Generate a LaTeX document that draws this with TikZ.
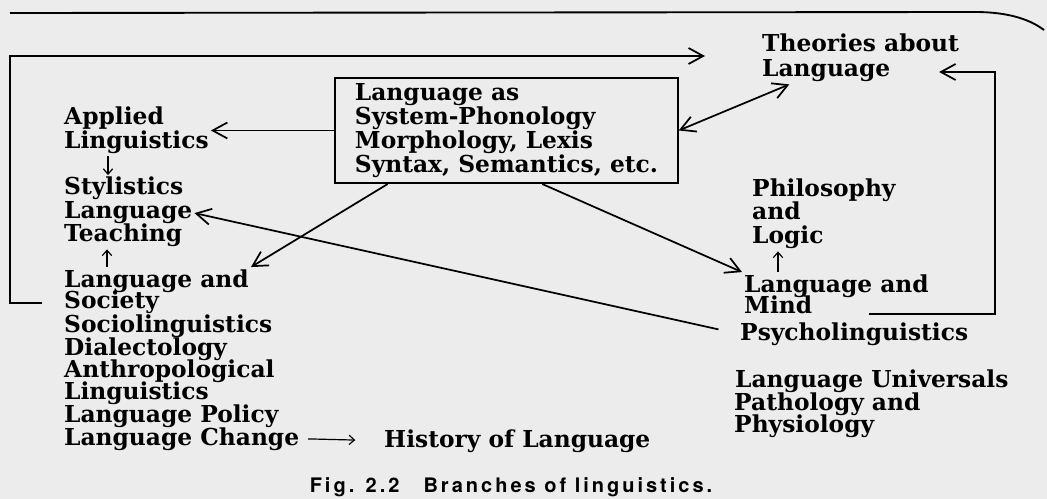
\documentclass[tikz,border=0pt]{standalone}
\usepackage{fontspec}
\setmainfont{DejaVu Serif}
\newfontfamily\capfont[LetterSpace=15]{TeX Gyre Heros}
\usetikzlibrary{arrows.meta}
\definecolor{pagegrey}{RGB}{236,236,236}

\begin{document}
\begin{tikzpicture}[x=0.75pt, y=-0.75pt, line width=1.3pt,
  font=\fontsize{17.5}{18}\selectfont\bfseries,
  >={Straight Barb[length=11pt,width=12pt]},
  lbl/.style={anchor=base west, inner sep=1pt},
  sysbox/.style={draw, align=left, minimum width=257pt, minimum height=79pt},
  smallarr/.style={-{Straight Barb[length=4pt,width=7pt]}, line width=0.9pt}]
  \fill[pagegrey] (0,0) rectangle (1047,499);
  \useasboundingbox (0,0) rectangle (1047,499);
  \draw[line width=1.4pt] (10,13) -- (975,12) .. controls (1005,12) and (1028,18) .. (1044,30);

  \node[sysbox] (sys) at (506.5,130.5)
    {Language as\\System-Phonology\\Morphology, Lexis\\Syntax, Semantics, etc.};

  \node[lbl] (appl1) at (62,125) {Applied};
  \node[lbl] (appl2) at (62,149) {Linguistics};
  \node[lbl] (styl) at (62,195) {Stylistics};
  \node[lbl] (lteach) at (62,219) {Language};
  \node[lbl] (teach) at (62,242) {Teaching};
  \node[lbl] (lsoc1) at (62,287) {Language and};
  \node[lbl] (lsoc2) at (62,309) {Society};
  \node[lbl] (socio) at (62,332) {Sociolinguistics};
  \node[lbl] (dial) at (62,355) {Dialectology};
  \node[lbl] (anth1) at (62,377) {Anthropological};
  \node[lbl] (anth2) at (62,399) {Linguistics};
  \node[lbl] (policy) at (62,422) {Language Policy};
  \node[lbl] (change) at (62,445) {Language Change};
  \node[lbl] (hist) at (382,447) {History of Language};

  \node[lbl] (theo1) at (760,52) {Theories about};
  \node[lbl] (theo2) at (760,77) {Language};
  \node[lbl] (phil1) at (750,197) {Philosophy};
  \node[lbl] (phil2) at (750,220) {and};
  \node[lbl] (phil3) at (750,244) {Logic};
  \node[lbl] (mind1) at (742,292) {Language and};
  \node[lbl] (mind2) at (742,314) {Mind};
  \node[lbl] (psych) at (738,340) {Psycholinguistics};
  \node[lbl] (univ1) at (733,387) {Language Universals};
  \node[lbl] (univ2) at (732,410) {Pathology and};
  \node[lbl] (univ3) at (732,432) {Physiology};

  \node[font=\capfont\fontsize{15}{17}\selectfont\bfseries] (cap) at (511,487)
    {Fig. 2.2\hspace{18pt}Branches of linguistics.};

  \coordinate (lcorner) at (10,56);
  \coordinate (ltip) at (705,56);
  \coordinate (rcorner) at (995,72);

  \draw[->] ([xshift=-15pt]lsoc2.west) -| (lcorner) -- (ltip);
  \draw[->, shorten >=35pt] ([xshift=41pt]mind2.base east) -| (rcorner) -- (rcorner -| theo2.east);
  \draw[->] (sys.west) -- (sys.west -| appl2.east);
  \draw[->] ([xshift=40pt]sys.south west) -- (lsoc1.north east);
  \draw[->] ([xshift=156pt]sys.south west) -- (mind1.north west);
  \draw[->, shorten <=15pt] (psych.west) -- (lteach.east);
  \draw[<->] (sys.east) -- ([xshift=22pt]theo2.south west);
  \draw[smallarr] ([xshift=34.5pt]appl2.south west) -- ([xshift=34.5pt]styl.north west);
  \draw[smallarr] ([xshift=33.75pt]lsoc1.north west) -- ([xshift=33.75pt]teach.south west);
  \draw[smallarr] ([xshift=27pt]mind1.north west) -- ([xshift=21pt]phil3.south west);
  \draw[smallarr, shorten <=5pt, shorten >=20pt] (change.east) -- (hist.west);
\end{tikzpicture}
\end{document}
